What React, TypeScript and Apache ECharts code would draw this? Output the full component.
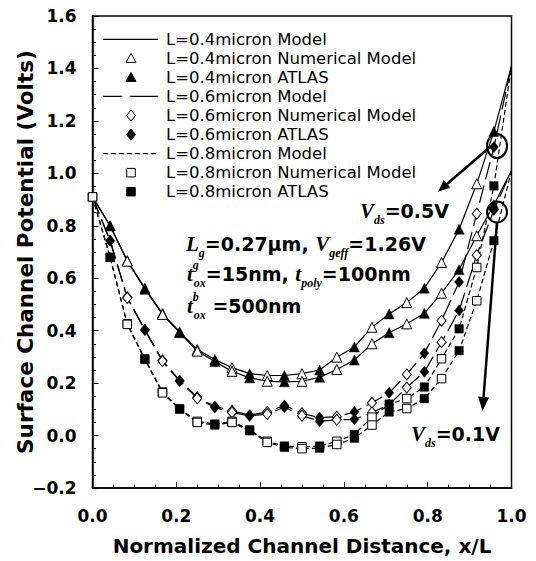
import { useEffect, useRef } from 'react';
import * as echarts from 'echarts';

// x positions (normalized channel distance) of the sampled points
const xPos = [0, 0.042, 0.083, 0.125, 0.167, 0.208, 0.25, 0.292, 0.333, 0.375, 0.417, 0.458, 0.5,
  0.542, 0.583, 0.625, 0.667, 0.708, 0.75, 0.792, 0.833, 0.875, 0.917, 0.958, 1.0];

// Surface potential (V) — upper branch Vds=0.5V, lower branch Vds=0.1V
const L04_vds05 = [0.91, 0.80, 0.667, 0.562, 0.465, 0.396, 0.328, 0.29, 0.259, 0.236, 0.229, 0.229, 0.236,
  0.25, 0.299, 0.338, 0.413, 0.464, 0.507, 0.562, 0.66, 0.787, 0.96, 1.16, 1.41];
const L04_vds01 = [0.91, 0.80, 0.665, 0.558, 0.462, 0.392, 0.322, 0.282, 0.245, 0.22, 0.207, 0.205, 0.207,
  0.222, 0.252, 0.288, 0.35, 0.392, 0.426, 0.466, 0.543, 0.633, 0.762, 0.88, 1.01];
const L06_vds05 = [0.91, 0.743, 0.527, 0.404, 0.286, 0.21, 0.146, 0.111, 0.094, 0.078, 0.09, 0.115, 0.085,
  0.068, 0.072, 0.09, 0.125, 0.163, 0.233, 0.314, 0.438, 0.586, 0.846, 1.10, 1.41];
const L06_vds01 = [0.91, 0.743, 0.525, 0.402, 0.284, 0.207, 0.142, 0.107, 0.088, 0.075, 0.082, 0.108, 0.076,
  0.055, 0.06, 0.062, 0.088, 0.118, 0.183, 0.243, 0.356, 0.477, 0.688, 0.86, 1.01];
const L08_vds05 = [0.91, 0.68, 0.426, 0.293, 0.166, 0.103, 0.054, 0.044, 0.054, 0.022, -0.022, -0.04, -0.043,
  -0.04, -0.022, 0.004, 0.07, 0.12, 0.141, 0.185, 0.293, 0.407, 0.641, 0.952, 1.41];
const L08_vds01 = [0.91, 0.68, 0.424, 0.29, 0.163, 0.1, 0.05, 0.04, 0.05, 0.018, -0.026, -0.045, -0.05,
  -0.048, -0.034, -0.01, 0.04, 0.09, 0.103, 0.141, 0.217, 0.324, 0.514, 0.743, 1.01];

// indices of the numerical-model (open) and ATLAS (filled) samples
const numericalIdx = [2, 4, 6, 8, 10, 12, 14, 16, 18, 20, 22];
const atlasIdx = [1, 3, 5, 7, 9, 11, 13, 15, 17, 19, 21, 23];

const legendNames = [
  'L=0.4micron Model', 'L=0.4micron Numerical Model', 'L=0.4micron ATLAS',
  'L=0.6micron Model', 'L=0.6micron Numerical Model', 'L=0.6micron ATLAS',
  'L=0.8micron Model', 'L=0.8micron Numerical Model', 'L=0.8micron ATLAS',
];

const groups = [
  { L: '0.4', hi: L04_vds05, lo: L04_vds01, dash: 'solid' as any, legendDash: null as any, symbol: 'triangle', size: 10 as any, extraOpen: [] as number[] },
  { L: '0.6', hi: L06_vds05, lo: L06_vds01, dash: [18, 6] as any, legendDash: [19, 8, 40, 8], symbol: 'diamond', size: [9, 11] as any, extraOpen: [] as number[] },
  { L: '0.8', hi: L08_vds05, lo: L08_vds01, dash: [5, 3] as any, legendDash: [5, 3], symbol: 'rect', size: 8.5 as any, extraOpen: [0] },
];

const pick = (vals: number[], idx: number[]) => idx.map((i) => [xPos[i], vals[i]]);

const SANS = 'DejaVu Sans';
const SERIF = 'Liberation Serif';

const rich = {
  it: { fontFamily: SERIF, fontStyle: 'italic', fontWeight: 'bold', fontSize: 21, lineHeight: 30, verticalAlign: 'middle', color: '#000' },
  n: { fontFamily: SANS, fontWeight: 'bold', fontSize: 19, lineHeight: 30, verticalAlign: 'middle', color: '#000' },
  sub: { fontFamily: SERIF, fontStyle: 'italic', fontWeight: 'bold', fontSize: 12, lineHeight: 14, verticalAlign: 'bottom', color: '#000' },
  sup: { fontFamily: SERIF, fontStyle: 'italic', fontWeight: 'bold', fontSize: 12, lineHeight: 8, verticalAlign: 'top', color: '#000', width: 1 },
};

function richText(text: string, x: number, y: number) {
  return {
    type: 'text',
    x,
    y,
    silent: true,
    z: 20,
    style: {
      text,
      rich,
      fill: '#000',
      font: `bold 19px "${SANS}"`,
      verticalAlign: 'middle',
      align: 'left',
    },
  };
}

// legend keys drawn as graphics
function legendGraphics() {
  const els: any[] = [];
  const x0 = 103, x1 = 158, cx = 131, top = 39.3, step = 19.05;
  legendNames.forEach((name, k) => {
    const y = top + step * k;
    const g = groups[Math.floor(k / 3)];
    const kind = k % 3;
    if (kind === 0) {
      els.push({
        type: 'line', silent: true,
        shape: { x1: x0, y1: y, x2: x1, y2: y },
        style: { stroke: '#000', lineWidth: 1.3, lineDash: g.legendDash || undefined },
      });
    } else {
      const fill = kind === 1 ? '#fff' : '#000';
      const st = { fill, stroke: '#000', lineWidth: 1 };
      if (g.symbol === 'triangle') {
        els.push({ type: 'polygon', silent: true, shape: { points: [[cx, y - 5], [cx + 5, y + 4], [cx - 5, y + 4]] }, style: st });
      } else if (g.symbol === 'diamond') {
        els.push({ type: 'polygon', silent: true, shape: { points: [[cx, y - 5.5], [cx + 4.5, y], [cx, y + 5.5], [cx - 4.5, y]] }, style: st });
      } else {
        els.push({ type: 'rect', silent: true, shape: { x: cx - 4.25, y: y - 4.25, width: 8.5, height: 8.5 }, style: st });
      }
    }
    els.push({
      type: 'text', silent: true, x: 166, y,
      style: { text: name, fill: '#000', font: `16.5px "${SANS}"`, verticalAlign: 'middle', align: 'left' },
    });
  });
  return els;
}

export default function App() {
  const ref = useRef<HTMLDivElement>(null);
  useEffect(() => {
    if (!ref.current) return;
    const chart = echarts.init(ref.current, undefined, { renderer: 'svg' });
    const series: any[] = [];
    groups.forEach((g) => {
      [g.hi, g.lo].forEach((vals) => {
        series.push({
          type: 'line',
          name: `L=${g.L}micron Model`,
          data: xPos.map((x, i) => [x, vals[i]]),
          symbol: 'none',
          silent: true,
          z: 2,
          lineStyle: { color: '#000', width: 1.2, type: g.dash },
          itemStyle: { color: '#000' },
        });
      });
    });
    groups.forEach((g) => {
      const openIdx = g.extraOpen.concat(numericalIdx);
      series.push({
        type: 'scatter',
        name: `L=${g.L}micron Numerical Model`,
        data: pick(g.hi, openIdx).concat(pick(g.lo, openIdx)),
        symbol: g.symbol,
        symbolSize: g.size,
        silent: true,
        z: 3,
        itemStyle: { color: '#fff', borderColor: '#000', borderWidth: 1, opacity: 1 },
      });
      series.push({
        type: 'scatter',
        name: `L=${g.L}micron ATLAS`,
        data: pick(g.hi, atlasIdx).concat(pick(g.lo, atlasIdx)),
        symbol: g.symbol,
        symbolSize: g.size,
        silent: true,
        z: 4,
        itemStyle: { color: '#000', borderColor: '#000', borderWidth: 0.5, opacity: 1 },
      });
    });

    chart.setOption({
      animation: false,
      backgroundColor: '#fff',
      grid: {
        left: 92.5, right: 24.5, top: 16, bottom: 71,
        show: true, borderColor: '#000', borderWidth: 1.5, backgroundColor: 'transparent',
      },
      xAxis: {
        type: 'value',
        min: 0,
        max: 1,
        interval: 0.2,
        name: 'Normalized Channel Distance, x/L',
        nameLocation: 'middle',
        nameGap: 48,
        nameMoveOverlap: false,
        nameTextStyle: { fontFamily: SANS, fontWeight: 'bold', fontSize: 20, color: '#000' },
        axisLine: { show: true, onZero: false, lineStyle: { color: '#000', width: 1.5 } },
        axisTick: { show: true, inside: true, length: 6, lineStyle: { color: '#000', width: 1 } },
        minorTick: { show: true, splitNumber: 4, length: 3.5, lineStyle: { color: '#000', width: 1 } },
        splitLine: { show: false },
        axisLabel: {
          margin: 19,
          fontFamily: SANS, fontWeight: 'bold', fontSize: 17, color: '#000',
          formatter: (v: number) => v.toFixed(1),
        },
      },
      yAxis: {
        type: 'value',
        min: -0.2,
        max: 1.6,
        interval: 0.2,
        name: 'Surface Channel Potential (Volts)',
        nameLocation: 'middle',
        nameGap: 56,
        nameMoveOverlap: false,
        nameTextStyle: { fontFamily: SANS, fontWeight: 'bold', fontSize: 21.5, color: '#000' },
        axisLine: { show: true, onZero: false, lineStyle: { color: '#000', width: 1.5 } },
        axisTick: { show: true, inside: true, length: 6, lineStyle: { color: '#000', width: 1 } },
        minorTick: { show: true, splitNumber: 4, length: 3.5, lineStyle: { color: '#000', width: 1 } },
        splitLine: { show: false },
        axisLabel: {
          margin: 16,
          fontFamily: SANS, fontWeight: 'bold', fontSize: 17, color: '#000',
          formatter: (v: number) => v.toFixed(1).replace('-', '\u2212'),
        },
      },
      series,
      graphic: [
        ...legendGraphics(),
        // parameter annotation
        richText('{it|L}{sub|g}{n|=0.27\u03bcm, }{it|V}{sub|geff}{n|=1.26V}', 186, 244),
        richText('{it|t}{sup|g}{sub|ox}{n|=15nm, }{it|t}{sub|poly}{n|=100nm}', 187, 274),
        richText('{it|t}{sup|b}{sub|ox}{n| =500nm}', 187, 306),
        // Vds labels
        richText('{it|V}{sub|ds}{n|=0.5V}', 360, 211),
        richText('{it|V}{sub|ds}{n|=0.1V}', 411, 434),
        // circles and arrows
        { type: 'ellipse', silent: true, z: 10, shape: { cx: 497, cy: 146, rx: 10, ry: 12 }, style: { fill: 'none', stroke: '#000', lineWidth: 2 } },
        { type: 'ellipse', silent: true, z: 10, shape: { cx: 497, cy: 212, rx: 10, ry: 10.5 }, style: { fill: 'none', stroke: '#000', lineWidth: 2 } },
        { type: 'line', silent: true, z: 10, shape: { x1: 490, y1: 147, x2: 447, y2: 184 }, style: { stroke: '#000', lineWidth: 2.5 } },
        { type: 'polygon', silent: true, z: 10, shape: { points: [[438, 191.7], [450.4, 187.7], [443.8, 180.1]] }, style: { fill: '#000' } },
        { type: 'line', silent: true, z: 10, shape: { x1: 497, y1: 222, x2: 483.6, y2: 397 }, style: { stroke: '#000', lineWidth: 2.5 } },
        { type: 'polygon', silent: true, z: 10, shape: { points: [[482.5, 411], [489.1, 397.4], [478.1, 396.6]] }, style: { fill: '#000' } },
      ],
    });
    return () => chart.dispose();
  }, []);
  return <div ref={ref} style={{ position: 'fixed', left: 0, top: 0, width: 536, height: 561 }} />;
}
